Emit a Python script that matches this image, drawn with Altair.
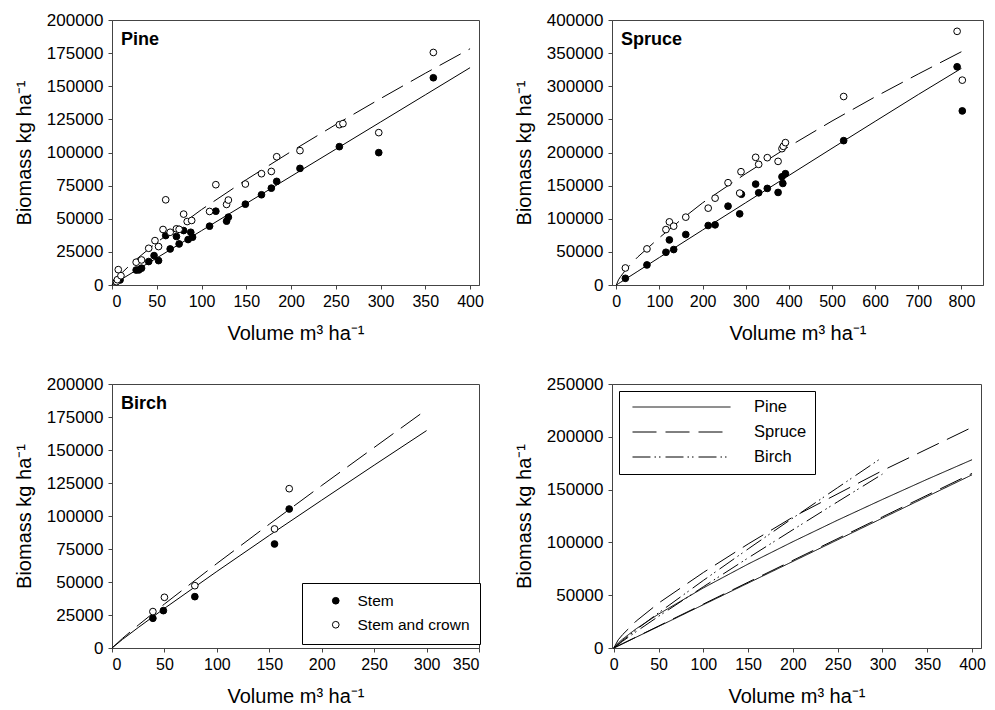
import altair as alt
import pandas as pd

FONT = "Liberation Sans"
XT = "Volume m³ ha⁻¹"
YT = "Biomass kg ha⁻¹"

# ---------------- Pine (observed plots) ----------------
pine_stem_v = [9, 27, 30, 33, 41, 47, 52, 60, 65, 72, 75, 80, 85, 88, 90, 109, 116, 128, 130, 149, 167, 178, 184, 210, 254, 298, 359]
pine_stem_b = [3800, 11300, 11400, 12700, 17700, 22200, 18400, 37300, 27200, 36600, 31000, 41100, 34300, 39800, 36100, 44400, 55700, 48200, 51200, 61000, 68100, 73100, 78200, 88000, 104400, 99900, 156400]
pine_sc_v = [5, 6, 7, 10, 27, 33, 41, 48, 52, 57, 60, 65, 72, 75, 80, 84, 89, 109, 116, 128, 130, 149, 167, 178, 184, 210, 254, 258, 298, 359]
pine_sc_b = [2500, 4000, 11600, 7000, 17200, 18900, 27700, 33500, 29000, 41900, 64300, 39800, 42400, 42000, 53500, 47900, 48700, 55500, 75700, 60800, 64100, 76200, 84000, 85700, 96800, 101400, 121000, 121800, 115000, 175500]

# Pine fitted curves
pine_curve_v = [0, 5, 10, 25, 50, 100, 150, 200, 250, 300, 350, 400]
pine_stem_curve = [0, 2000, 4100, 10250, 20400, 41000, 61500, 82000, 102500, 123000, 143500, 164000]
pine_sc_curve = [0, 4800, 8500, 18200, 32100, 56900, 79500, 100700, 121100, 140700, 159800, 178300]

# ---------------- Spruce ----------------
spruce_stem_v = [21, 71, 115, 123, 133, 161, 213, 229, 259, 286, 290, 323, 330, 350, 375, 384, 386, 392, 527, 790, 802]
spruce_stem_b = [10100, 30300, 49400, 68100, 53500, 76200, 89800, 90800, 119000, 107400, 137000, 152300, 139200, 145800, 139700, 163400, 153300, 168000, 217900, 329400, 262800]
spruce_sc_v = [21, 71, 115, 123, 133, 161, 213, 229, 259, 286, 289, 323, 330, 350, 375, 384, 387, 392, 527, 790, 802]
spruce_sc_b = [25700, 54500, 83700, 95300, 88800, 102400, 116000, 131100, 154400, 138700, 171000, 192700, 182100, 192200, 186600, 205800, 209300, 214900, 284500, 382900, 309200]

spruce_curve_v = [0, 5, 10, 25, 50, 100, 150, 200, 300, 400, 500, 600, 700, 800]
spruce_stem_curve = [0, 2100, 4150, 10400, 20800, 41600, 62300, 83000, 124200, 165300, 206300, 247000, 287500, 327000]
spruce_sc_curve = [0, 7800, 12800, 25500, 42500, 71500, 98500, 124000, 168000, 209000, 247500, 284000, 318500, 352100]

# ---------------- Birch ----------------
birch_stem_v = [39, 49, 79, 155, 169]
birch_stem_b = [22500, 28300, 38900, 78800, 105300]
birch_sc_v = [39, 50, 79, 155, 169]
birch_sc_b = [27600, 38400, 47200, 90200, 120700]

birch_curve_v = [0, 10, 25, 50, 100, 150, 200, 250, 300]
birch_stem_curve = [0, 6500, 15500, 30000, 58000, 85300, 112000, 138500, 164700]
birch_sc_curve = [0, 7300, 17300, 33300, 64000, 93800, 123100, 151900, 180600]

PARTS = ["Stem", "Stem and crown"]
SPECIES = ["Pine", "Spruce", "Birch"]


def points_df(sv, sb, cv, cb):
    return pd.DataFrame({"v": sv + cv, "b": sb + cb,
                         "part": [PARTS[0]] * len(sv) + [PARTS[1]] * len(cv)})


def curves_df(v, stem, sc, species="", vmax=None):
    rows = []
    for part, vals in ((PARTS[0], stem), (PARTS[1], sc)):
        for vv, bb in zip(v, vals):
            if vmax is None or vv <= vmax:
                rows.append({"v": vv, "b": bb, "part": part, "species": species,
                             "line": species + " " + part})
    return pd.DataFrame(rows)


def xy(xdom, xticks, ydom, yticks):
    x = alt.X("v:Q", scale=alt.Scale(domain=xdom, nice=False, zero=False),
              axis=alt.Axis(values=xticks, title=XT))
    y = alt.Y("b:Q", scale=alt.Scale(domain=ydom, nice=False),
              axis=alt.Axis(values=yticks, title=YT, format="d"))
    return x, y


def species_panel(name, pts, crv, xdom, xticks, ydom, yticks, w, h, legend=None):
    x, y = xy(xdom, xticks, ydom, yticks)
    base_line = alt.Chart(crv).encode(x=x, y=y)
    stem_line = base_line.transform_filter(alt.datum.part == PARTS[0]).mark_line(
        color="black", strokeWidth=1)
    sc_line = base_line.transform_filter(alt.datum.part == PARTS[1]).mark_line(
        color="black", strokeWidth=1, strokeDash=[24, 9])
    dots = alt.Chart(pts).mark_point(shape="circle", filled=True, size=45, stroke="black",
                                     strokeWidth=1, opacity=1).encode(
        x=x, y=y,
        fill=alt.Fill("part:N", scale=alt.Scale(domain=PARTS, range=["black", "white"]), legend=legend))
    label = alt.Chart(pd.DataFrame({"t": [name]})).mark_text(
        align="left", baseline="alphabetic", fontWeight="bold", fontSize=18, font=FONT, color="black"
    ).encode(text="t:N", x=alt.value(9), y=alt.value(25))
    return alt.layer(stem_line, sc_line, dots, label).properties(width=w, height=h)


ticks50_400 = [0, 50, 100, 150, 200, 250, 300, 350, 400]
yt200 = [0, 25000, 50000, 75000, 100000, 125000, 150000, 175000, 200000]

p1 = species_panel("Pine", points_df(pine_stem_v, pine_stem_b, pine_sc_v, pine_sc_b),
                   curves_df(pine_curve_v, pine_stem_curve, pine_sc_curve),
                   [0, 410], ticks50_400, [0, 200000], yt200, 367, 265, legend=None)

p2 = species_panel("Spruce", points_df(spruce_stem_v, spruce_stem_b, spruce_sc_v, spruce_sc_b),
                   curves_df(spruce_curve_v, spruce_stem_curve, spruce_sc_curve),
                   [-10, 850], [0, 100, 200, 300, 400, 500, 600, 700, 800], [0, 400000],
                   [0, 50000, 100000, 150000, 200000, 250000, 300000, 350000, 400000], 371, 265,
                   legend=None)

birch_legend = alt.Legend(title=None, orient="none", legendX=190, legendY=199, strokeColor="black",
                          fillColor="white", padding=10, symbolType="circle", symbolSize=45,
                          symbolStrokeColor="black", symbolStrokeWidth=1, symbolOffset=16,
                          labelOffset=14, rowPadding=7, labelFontSize=15.5, labelFont=FONT,
                          labelColor="black")

p3 = species_panel("Birch", points_df(birch_stem_v, birch_stem_b, birch_sc_v, birch_sc_b),
                   curves_df(birch_curve_v, birch_stem_curve, birch_sc_curve),
                   [0, 350], [0, 50, 100, 150, 200, 250, 300, 350], [0, 200000], yt200, 367, 264,
                   legend=birch_legend)

all_curves = pd.concat([
    curves_df(pine_curve_v, pine_stem_curve, pine_sc_curve, "Pine"),
    curves_df(spruce_curve_v, spruce_stem_curve, spruce_sc_curve, "Spruce", vmax=400),
    curves_df(birch_curve_v, birch_stem_curve, birch_sc_curve, "Birch"),
], ignore_index=True)

x4, y4 = xy([-2, 410], ticks50_400, [0, 250000], [0, 50000, 100000, 150000, 200000, 250000])
p4 = alt.Chart(all_curves).mark_line(color="black", strokeWidth=1).encode(
    x=x4, y=y4,
    strokeDash=alt.StrokeDash(
        "species:N",
        scale=alt.Scale(domain=SPECIES,
                        range=[[1, 0], [24, 9], [18, 4, 1.5, 3, 1.5, 5]]),
        legend=alt.Legend(title=None, orient="none", legendX=7, legendY=7, strokeColor="black",
                          fillColor="white", padding=8, symbolType="stroke", symbolSize=9604,
                          clipHeight=16, symbolOffset=5,
                          symbolStrokeColor="black", symbolStrokeWidth=1, labelOffset=23,
                          rowPadding=8, labelFontSize=16.5, labelFont=FONT, labelColor="black")),
    detail="line:N",
).properties(width=369, height=264)

chart = alt.concat(p1, p2, p3, p4, columns=2, bounds="flush",
                   spacing={"row": 99, "column": 133}).resolve_scale(
    fill="independent", strokeDash="independent").resolve_legend(
    fill="independent", strokeDash="independent").properties(
    padding={"left": 5, "top": 2, "right": 0, "bottom": 0},
    background="white",
).configure_view(stroke="#444", strokeWidth=1).configure_axis(
    grid=False, domainColor="#444", tickColor="#444", tickSize=4, labelColor="black",
    labelFont=FONT, labelFontSize=16, titleFont=FONT, titleFontSize=20, titleFontWeight="normal",
    titleColor="black",
).configure_axisX(labelPadding=4, titlePadding=14).configure_axisY(
    labelPadding=5, titlePadding=12, labelFontSize=17)

chart.save("out.html", embed_options={"renderer": "svg", "actions": False})
